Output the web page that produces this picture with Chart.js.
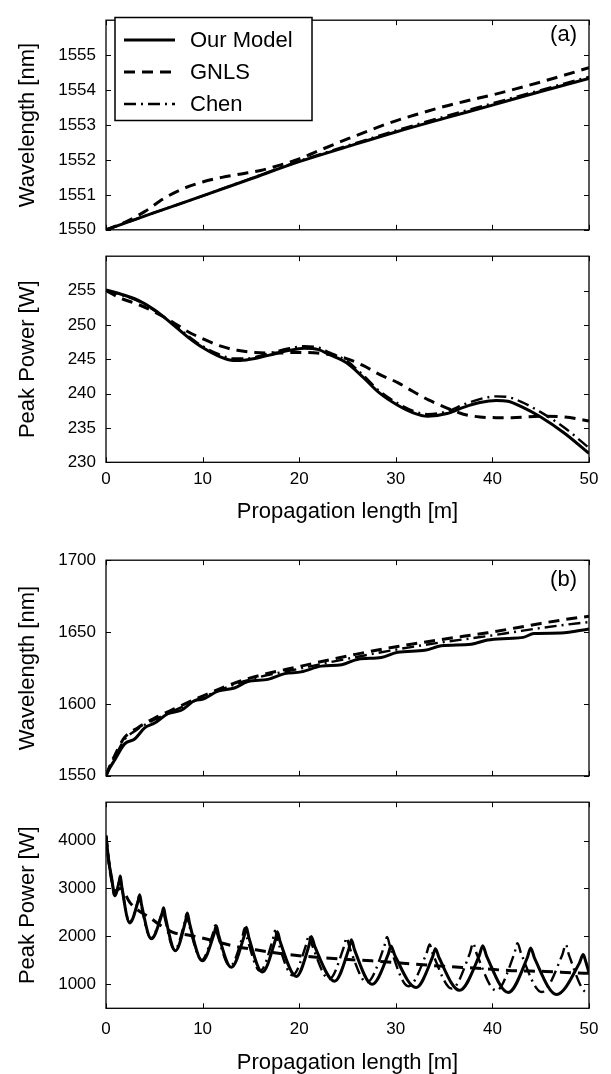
<!DOCTYPE html>
<html><head><meta charset="utf-8">
<script src="https://cdn.jsdelivr.net/npm/chart.js@4"></script>
<style>
html,body{margin:0;padding:0;background:#fff;}
#wrap{position:relative;width:611px;height:1074px;overflow:hidden;background:#fff;}
canvas{position:absolute;left:0;}
</style></head><body>
<div id="wrap">
<canvas id="c1" width="611" height="250" style="top:0px"></canvas>
<canvas id="c2" width="611" height="294" style="top:236px"></canvas>
<canvas id="c3" width="611" height="256" style="top:540px"></canvas>
<canvas id="c4" width="611" height="292" style="top:782px"></canvas>
</div>
<script>
// ---------- data ----------
const seriesLabels = ['Our Model', 'GNLS', 'Chen'];
const xTitle = 'Propagation length [m]';
const xTicks = [0, 10, 20, 30, 40, 50];
const aWaveTicks = [1550, 1551, 1552, 1553, 1554, 1555];
const aPowTicks = [230, 235, 240, 245, 250, 255];
const bWaveTicks = [1550, 1600, 1650, 1700];
const bPowTicks = [1000, 2000, 3000, 4000];

// (a) wavelength
const aWaveX = [0,5,10,15,20,25,30,35,40,45,50];
const aWaveModel = [1550,1550.49,1550.97,1551.46,1551.95,1552.38,1552.8,1553.19,1553.57,1553.96,1554.33];
const aWaveChen = [1550,1550.49,1550.97,1551.47,1551.97,1552.41,1552.84,1553.24,1553.62,1554.0,1554.38];
const aWaveGnlsX = [0,2,4,6,8,10,12,14,16,18,20,22.5,25,27.5,30,32.5,35,37.5,40,42.5,45,47.5,50];
const aWaveGnls = [1550,1550.22,1550.52,1550.9,1551.18,1551.37,1551.5,1551.6,1551.7,1551.85,1552.03,1552.32,1552.6,1552.87,1553.12,1553.33,1553.53,1553.7,1553.86,1554.04,1554.23,1554.43,1554.64];

// (a) peak power
const aPowX = [0,1.5,3.3,5,6.8,8.5,10,11.9,13.2,14.5,15.4,17.5,19,20.5,22,23.1,24.9,26.6,28.3,30.2,31.8,33.3,35.3,37,38.7,40.4,41.6,43,45,47.5,50];
const aPowModel = [255.1,254.5,253.6,252.2,250.2,248.2,246.7,245.3,244.8,244.9,245.1,245.8,246.3,246.6,246.4,245.7,244.5,242.4,240.1,238.3,237.2,236.7,237.1,238.0,238.7,239.0,238.9,238.1,236.6,234.2,231.3];
const aPowChen = [255.0,254.4,253.5,252.1,250.3,248.4,246.9,245.6,245.1,245.1,245.3,246.1,246.6,246.9,246.7,246.0,244.8,242.7,240.4,238.6,237.5,237.0,237.4,238.4,239.2,239.6,239.5,238.8,237.3,235.0,232.1];
const aPowGnlsX = [0,1.5,3.3,5,6.8,8.5,10,11.9,13.6,15.4,17.5,20,23.1,24.9,26.6,28.3,30.2,31.8,33.5,35.3,37,38.7,40.4,42,45,47.5,50];
const aPowGnls = [255.0,253.9,253.0,251.9,250.5,249.0,248.0,246.9,246.3,246.0,245.9,246.0,245.7,245.1,244.1,242.8,241.6,240.3,239.0,237.9,237.0,236.6,236.5,236.5,236.7,236.6,236.0];

// (b) wavelength
const bWaveModelX = [0,0.4,0.9,1.93,2.97,4.0,5.04,6.42,7.8,9.18,10.04,11.59,13.3,14.7,16.77,18.5,20.2,22.3,24.4,26.1,28.5,30.2,33.0,34.7,37.8,39.5,41.6,43.2,44.3,47.1,50];
const bWaveModel = [1550,1555.5,1561,1572.2,1575.6,1583.3,1586.7,1593.3,1595.6,1602.3,1603.3,1608.9,1611.1,1615.6,1617.1,1621.1,1622.3,1626.3,1627.3,1631.1,1632.3,1636,1637.3,1640.5,1641.6,1644.5,1645.6,1646.3,1649,1649.3,1652.2];
const bWaveOtherX = [0,0.4,0.9,1.9,3.3,5,7.1,10,14.4,20.2,25.8,30.2,34.7,39.5,42.5,45,47.5,50];
const bWaveGnls = [1550,1557,1564,1576.5,1583.5,1590,1596.7,1605.5,1617,1626.3,1634.5,1640,1644.8,1649.5,1653,1656,1658.7,1661];
const bWaveChen = [1550,1556.5,1563,1575,1582.5,1589,1595.5,1604.5,1616,1624.8,1632.5,1638,1642.8,1647.2,1650.3,1652.8,1655,1657];

// (b) peak power
const bPowModelX = [0,0.3,0.6,0.9,1.39,1.48,1.63,2.45,3.33,3.49,3.67,4.69,5.78,5.97,6.15,7.18,8.23,8.42,8.65,9.97,11.2,11.42,11.65,12.97,14.3,14.53,14.78,16.18,17.51,17.74,18.03,19.7,21.02,21.25,21.61,23.67,25.14,25.4,25.72,27.55,29.21,29.5,29.89,32.1,33.8,34.1,34.48,36.6,38.64,39.0,39.4,41.65,43.61,43.96,44.36,46.65,48.99,49.4,49.7,50];
const bPowModel = [4100,3550,3200,2850,3170,3260,3045,2280,2740,2870,2670,1950,2457,2600,2402,1700,2316,2490,2270,1490,2060,2220,2030,1355,2006,2190,1984,1255,1910,2095,1890,1165,1816,2000,1794,1065,1740,1930,1725,1000,1624,1800,1610,935,1567,1745,1554,875,1600,1805,1590,830,1555,1760,1547,790,1437,1620,1450,1240];
const bPowGnlsX = [0,0.3,0.6,0.9,1.5,2.5,3.5,4.5,5.5,7,8.5,10.5,13,15.5,18.5,21.5,24.5,27.5,31.5,35,38.5,42,45.5,48.5,50];
const bPowGnls = [4100,3550,3150,2950,3000,2700,2520,2400,2250,2080,2030,1940,1810,1720,1630,1570,1525,1490,1430,1375,1335,1285,1270,1240,1230];
const bPowChenX = [0,0.3,0.6,0.9,1.39,1.48,1.63,2.45,3.3,3.45,3.63,4.65,5.71,5.9,6.08,7.1,8.16,8.35,8.58,9.9,11.09,11.3,11.53,12.85,14.13,14.35,14.59,15.95,17.27,17.5,17.77,19.3,20.75,21.0,21.32,23.1,24.63,24.9,25.22,27.0,28.79,29.1,29.43,31.3,33.17,33.5,33.85,35.8,37.67,38.0,38.36,40.4,42.27,42.6,42.98,45.1,47.23,47.6,47.93,49.8,50];
const bPowChen = [4100,3550,3200,2850,3162,3250,3041,2300,2729,2850,2654,1960,2444,2580,2391,1720,2305,2470,2259,1510,2072,2230,2043,1380,1996,2170,1974,1280,1935,2120,1915,1190,1845,2030,1828,1110,1781,1970,1765,1040,1781,1990,1763,960,1639,1830,1628,910,1651,1860,1642,870,1642,1860,1636,840,1612,1830,1610,830,840];

// ---------- styling ----------
const FONT = "'Liberation Sans', Arial, Helvetica, sans-serif";
Chart.defaults.font.family = FONT;
Chart.defaults.color = '#000';

const lineStyles = [
  {borderWidth: 3, borderDash: []},
  {borderWidth: 3, borderDash: [11, 7]},
  {borderWidth: 2.4, borderDash: [12, 5, 2, 5]}
];

function ds(i, xs, ys) {
  return Object.assign({
    label: seriesLabels[i],
    data: xs.map((x, k) => ({x: x, y: ys[k]})),
    borderColor: '#000',
    backgroundColor: '#000',
    pointRadius: 0,
    fill: false,
    cubicInterpolationMode: 'monotone',
    borderCapStyle: 'butt'
  }, lineStyles[i]);
}

const framePlugin = {
  id: 'frame',
  afterDatasetsDraw(chart, args, opts) {
    const ctx = chart.ctx, a = chart.chartArea;
    const xs = chart.scales.x, ys = chart.scales.y;
    const L = 5;
    ctx.save();
    ctx.strokeStyle = '#000';
    ctx.setLineDash([]);
    ctx.lineWidth = 1;
    ctx.beginPath();
    xTicks.forEach(v => {
      const p = Math.round(xs.getPixelForValue(v)) + 0.5;
      ctx.moveTo(p, a.bottom); ctx.lineTo(p, a.bottom - L);
      ctx.moveTo(p, a.top); ctx.lineTo(p, a.top + L);
    });
    (opts.yTicks || []).forEach(v => {
      const p = Math.round(ys.getPixelForValue(v)) + 0.5;
      ctx.moveTo(a.left, p); ctx.lineTo(a.left + L, p);
      ctx.moveTo(a.right, p); ctx.lineTo(a.right - L, p);
    });
    ctx.stroke();
    ctx.lineWidth = 1.3;
    ctx.strokeRect(a.left, a.top, a.right - a.left, a.bottom - a.top);
    ctx.restore();
  },
  afterDraw(chart, args, opts) {
    const ctx = chart.ctx;
    ctx.save();
    if (opts.tag) {
      ctx.fillStyle = '#000';
      ctx.font = '22px ' + FONT;
      ctx.textAlign = 'right';
      ctx.textBaseline = 'middle';
      ctx.fillText(opts.tag.text, opts.tag.x, opts.tag.y);
    }
    if (opts.legend) {
      const bx = 115, by = 17.5, bw = 197, bh = 103;
      ctx.fillStyle = '#fff';
      ctx.fillRect(bx, by, bw, bh);
      ctx.strokeStyle = '#000';
      ctx.lineWidth = 1.5;
      ctx.setLineDash([]);
      ctx.strokeRect(bx, by, bw, bh);
      chart.data.datasets.forEach((d, i) => {
        const y = 40 + i * 32;
        ctx.setLineDash(d.borderDash || []);
        ctx.lineWidth = d.borderWidth;
        ctx.beginPath(); ctx.moveTo(124, y); ctx.lineTo(175, y); ctx.stroke();
        ctx.setLineDash([]);
        ctx.fillStyle = '#000';
        ctx.font = '22px ' + FONT;
        ctx.textAlign = 'left';
        ctx.textBaseline = 'middle';
        ctx.fillText(d.label, 190, y + 1);
      });
    }
    ctx.restore();
  }
};

function xScale(show, tickPad, titlePad, h) {
  return {
    type: 'linear', min: 0, max: 50, position: 'bottom', display: show,
    grid: {display: false, drawTicks: false}, border: {display: false},
    afterBuildTicks: s => { s.ticks = xTicks.map(v => ({value: v})); },
    ticks: {font: {size: 17}, padding: tickPad, maxRotation: 0, autoSkip: false, callback: v => String(v)},
    title: {display: show, text: xTitle, font: {size: 22, lineHeight: 1}, padding: {top: 0, bottom: titlePad}},
    afterFit: s => { if (show) s.height = h; }
  };
}
function yScale(min, max, ticks, title) {
  return {
    type: 'linear', min: min, max: max, position: 'left',
    grid: {display: false, drawTicks: false}, border: {display: false},
    afterBuildTicks: s => { s.ticks = ticks.map(v => ({value: v})); },
    ticks: {font: {size: 17}, padding: 10, autoSkip: false, callback: v => String(v)},
    title: {display: true, text: title, font: {size: 22, lineHeight: 1}, padding: {top: 17, bottom: 0}},
    afterFit: s => { s.width = 106; }
  };
}
function make(id, datasets, pad, xs, ys, frameOpts) {
  return new Chart(document.getElementById(id), {
    type: 'line',
    data: {datasets: datasets},
    plugins: [framePlugin],
    options: {
      responsive: false, animation: false, devicePixelRatio: 1,
      layout: {padding: pad, autoPadding: false},
      parsing: true,
      plugins: {legend: {display: false}, tooltip: {enabled: false}, frame: frameOpts},
      scales: {x: xs, y: ys}
    }
  });
}

make('c1',
  [ds(0, aWaveX, aWaveModel), ds(1, aWaveGnlsX, aWaveGnls), ds(2, aWaveX, aWaveChen)],
  {left: 0, right: 22, top: 10, bottom: 13.3},
  xScale(false, 0, 0, 0), yScale(1550, 1556, aWaveTicks, 'Wavelength [nm]'),
  {yTicks: aWaveTicks, legend: true, tag: {text: '(a)', x: 577, y: 35}});

make('c2',
  [ds(0, aPowX, aPowModel), ds(1, aPowGnlsX, aPowGnls), ds(2, aPowX, aPowChen)],
  {left: 0, right: 22, top: 0.7, bottom: 0},
  xScale(true, 7, 7.3, 67.7), yScale(230, 260, aPowTicks, 'Peak Power [W]'),
  {yTicks: aPowTicks});

make('c3',
  [ds(0, bWaveModelX, bWaveModel), ds(1, bWaveOtherX, bWaveGnls), ds(2, bWaveOtherX, bWaveChen)],
  {left: 0, right: 22, top: 16.7, bottom: 13.3},
  xScale(false, 0, 0, 0), yScale(1550, 1700, bWaveTicks, 'Wavelength [nm]'),
  {yTicks: bWaveTicks, tag: {text: '(b)', x: 577, y: 40}});

make('c4',
  [ds(0, bPowModelX, bPowModel), ds(1, bPowGnlsX, bPowGnls), ds(2, bPowChenX, bPowChen)],
  {left: 0, right: 22, top: 0.7, bottom: 0},
  xScale(true, 10.5, 0, 65.7), yScale(500, 4800, bPowTicks, 'Peak Power [W]'),
  {yTicks: bPowTicks});
</script>
</body></html>
